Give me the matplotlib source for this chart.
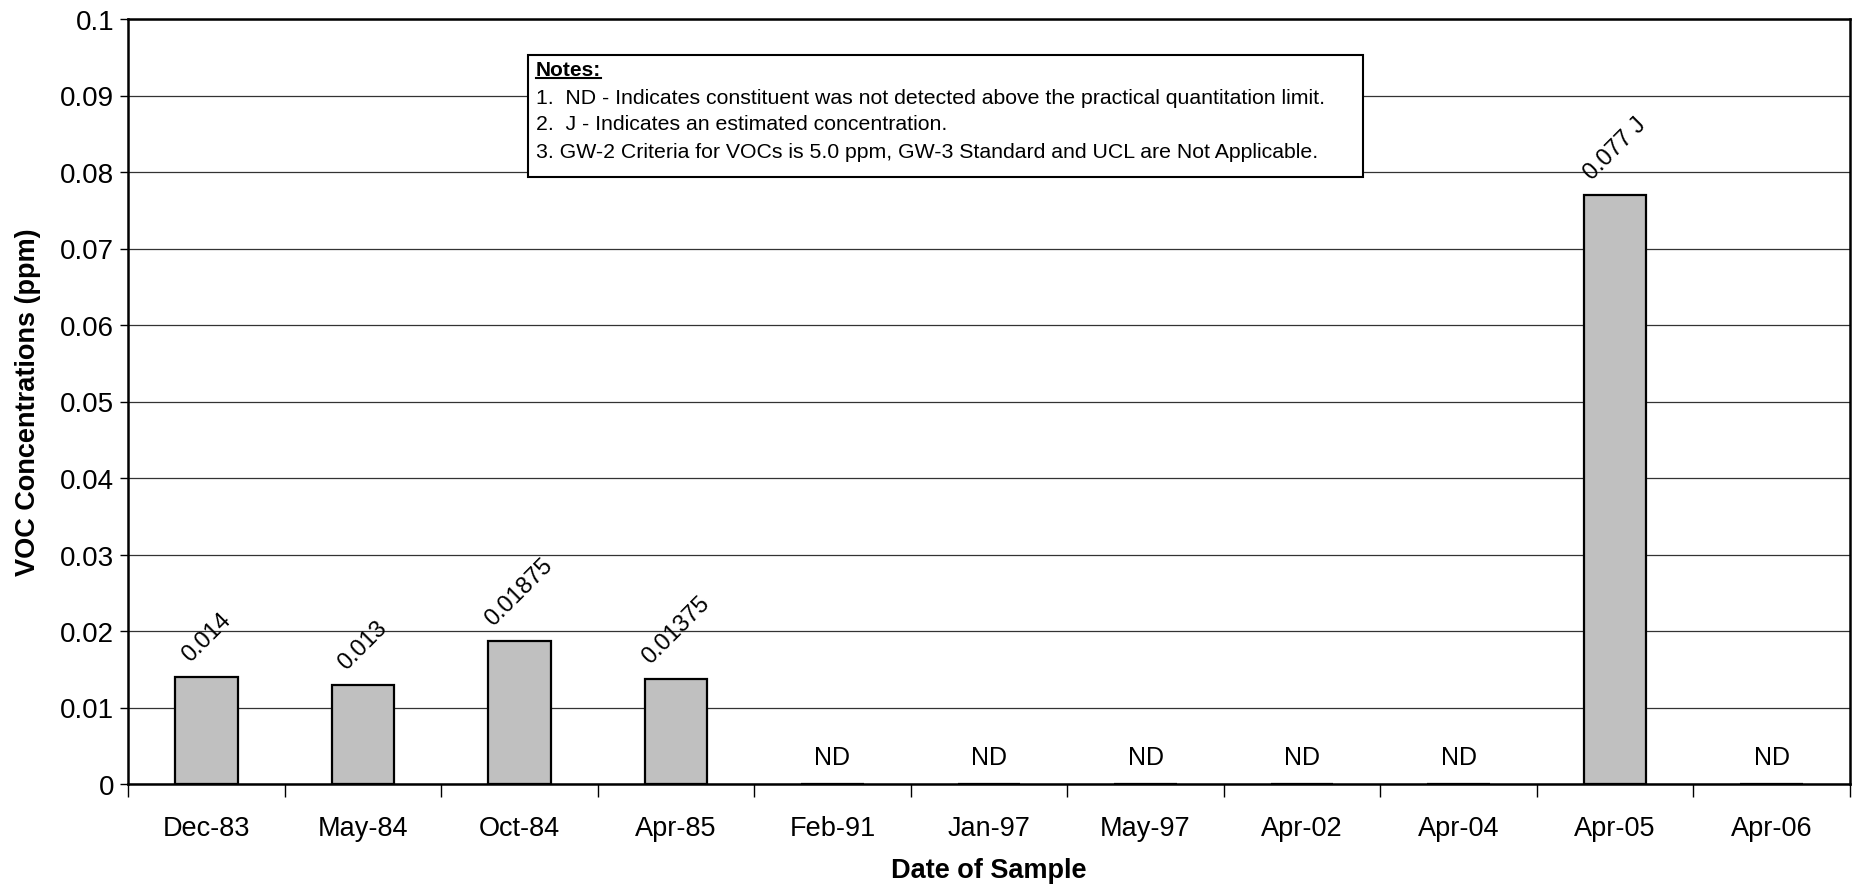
import numpy as np
import matplotlib
matplotlib.use('Agg')
import matplotlib.pyplot as plt

# Data
dates = ['Dec-83', 'May-84', 'Oct-84', 'Apr-85', 'Feb-91', 'Jan-97',
         'May-97', 'Apr-02', 'Apr-04', 'Apr-05', 'Apr-06']
voc = [0.014, 0.013, 0.01875, 0.01375, 0, 0, 0, 0, 0, 0.077, 0]
labels = ['0.014', '0.013', '0.01875', '0.01375', 'ND', 'ND',
          'ND', 'ND', 'ND', '0.077 J', 'ND']
notes = ['1.  ND - Indicates constituent was not detected above the practical quantitation limit.',
         '2.  J - Indicates an estimated concentration.',
         '3. GW-2 Criteria for VOCs is 5.0 ppm, GW-3 Standard and UCL are Not Applicable.']

plt.rcParams['font.family'] = ['Liberation Sans', 'DejaVu Sans']

W, H = 1858, 887
fig = plt.figure(figsize=(W / 100, H / 100), dpi=100)
ax = fig.add_axes([128 / W, 1 - 785 / H, (1850 - 128) / W, (785 - 20) / H])

x = np.arange(len(dates))
ax.bar(x, voc, width=0.40, color='#C0C0C0', edgecolor='black', linewidth=1.6, zorder=3)

for xi, v, lab in zip(x, voc, labels):
    if lab == 'ND':
        ax.text(xi, 0.0035, lab, ha='center', va='center', fontsize=18)
    else:
        ax.annotate(lab, (xi, v), xytext=(0, 8), textcoords='offset points',
                    ha='center', va='bottom', rotation=45, fontsize=17)

ax.set_xlim(-0.5, len(dates) - 0.5)
ax.set_ylim(0, 0.1)
ax.set_yticks(np.arange(0, 0.1001, 0.01))
ax.set_yticklabels(['0'] + ['%g' % round(t, 2) for t in np.arange(0.01, 0.1001, 0.01)])
ax.set_xticks(x)
ax.set_xticklabels(dates)
ax.set_xticks(np.arange(-0.5, len(dates), 1), minor=True)
ax.tick_params(axis='x', which='major', length=0, pad=22, labelsize=19.5)
ax.tick_params(axis='x', which='minor', length=9, width=1, direction='out')
ax.tick_params(axis='y', length=6, width=1, labelsize=20, pad=4)

ax.yaxis.grid(True, color='#333333', linewidth=0.9)
ax.set_axisbelow(True)
for s in ax.spines.values():
    s.set_linewidth(1.8)

ax.set_xlabel('Date of Sample', fontsize=19.5, fontweight='bold', labelpad=12)
ax.set_ylabel('VOC Concentrations (ppm)', fontsize=19.5, fontweight='bold', labelpad=14)

# Notes box
bx0, bx1, by0, by1 = 528, 1363, 56, 178
box = plt.Rectangle((bx0 / W, 1 - by1 / H), (bx1 - bx0) / W, (by1 - by0) / H,
                    transform=fig.transFigure, facecolor='white', edgecolor='black',
                    linewidth=1.5, zorder=5)
fig.patches.append(box)
nt = fig.text(536 / W, 1 - 70 / H, 'Notes:', fontsize=15, fontweight='bold',
              va='center', ha='left', zorder=6)
for i, line in enumerate(notes):
    fig.text(536 / W, 1 - (98 + 27 * i) / H, line, fontsize=15.3,
             va='center', ha='left', zorder=6)

fig.canvas.draw()
bb = nt.get_window_extent().transformed(fig.transFigure.inverted())
fig.add_artist(plt.Line2D([bb.x0, bb.x1], [bb.y0 + 0.001, bb.y0 + 0.001],
                          transform=fig.transFigure, color='black', linewidth=1.5, zorder=6))

fig.savefig('out.png', dpi=100)
